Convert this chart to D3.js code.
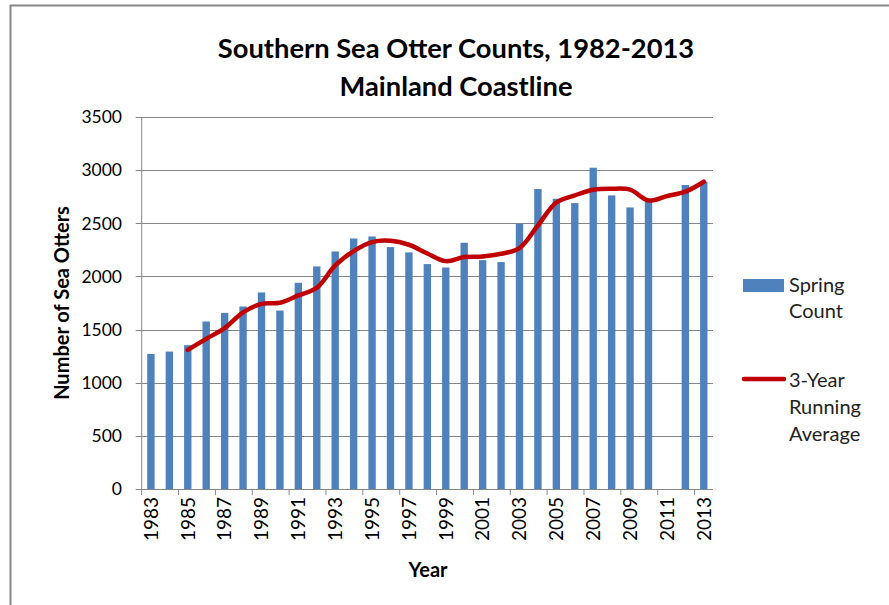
<!DOCTYPE html>
<html>
<head>
<meta charset="utf-8">
<script src="https://cdn.jsdelivr.net/npm/d3@7"></script>
<style>
  html, body { margin: 0; padding: 0; background: #fff; }
  svg { display: block; }
  text { font-family: Lato, "Liberation Sans", sans-serif; fill: #000; }
</style>
</head>
<body>
<svg id="chart" width="889" height="605"></svg>
<script>
const years = ["1983","1984","1985","1986","1987","1988","1989","1990","1991","1992",
  "1993","1994","1995","1996","1997","1998","1999","2000","2001","2002",
  "2003","2004","2005","2006","2007","2008","2009","2010","2011","2012","2013"];
const springCount = [1271,1293,1353,1576,1657,1717,1849,1679,1940,2094,
  2235,2357,2376,2276,2226,2116,2084,2317,2153,2135,
  2495,2822,2731,2690,3023,2762,2649,2706,null,2860,2891];
const runningAvg = [null,null,1309,1413,1513,1661,1742,1752,1821,1893,
  2103,2238,2323,2335,2298,2216,2144,2182,2188,2213,
  2266,2480,2696,2762,2816,2825,2816,2715,2756,2797,2891];
const yTicks = [0,500,1000,1500,2000,2500,3000,3500];
const xTickLabels = ["1983","1985","1987","1989","1991","1993","1995","1997","1999",
  "2001","2003","2005","2007","2009","2011","2013"];
const titleLines = ["Southern Sea Otter Counts, 1982-2013", "Mainland Coastline"];
const legendItems = [["Spring","Count"],["3-Year","Running","Average"]];

const svg = d3.select("#chart");
const gridColor = "#868686";
const barColor = "#4F81BD";
const lineColor = "#C00000";

// frame
svg.append("line").attr("x1",10).attr("x2",889).attr("y1",5.5).attr("y2",5.5)
  .attr("stroke","#878787").attr("stroke-width",2);
svg.append("line").attr("x1",10.5).attr("x2",10.5).attr("y1",5).attr("y2",605)
  .attr("stroke","#878787").attr("stroke-width",2);

const plot = {left:141.7, right:713, top:117, bottom:489};
const x = d3.scaleBand().domain(years).range([plot.left, plot.right]).paddingInner(0).paddingOuter(0);
const y = d3.scaleLinear().domain([0,3500]).range([plot.bottom, plot.top]);

// gridlines + y ticks
svg.append("g").selectAll("line").data(yTicks).join("line")
  .attr("x1", plot.left - 6).attr("x2", plot.right)
  .attr("y1", d => Math.round(y(d)) + 0.5).attr("y2", d => Math.round(y(d)) + 0.5)
  .attr("stroke", gridColor).attr("stroke-width", 1);

// y axis line
svg.append("line").attr("x1", plot.left).attr("x2", plot.left)
  .attr("y1", plot.top).attr("y2", plot.bottom)
  .attr("stroke", gridColor).attr("stroke-width", 1);

// y tick labels
svg.append("g").selectAll("text").data(yTicks).join("text")
  .attr("x", 122).attr("y", d => y(d)).attr("dy","0.36em")
  .attr("text-anchor","end").style("font-size","17.5px").style("fill","#000")
  .text(d => d);

// bars
const bw = x.bandwidth() * 0.4;
svg.append("g").selectAll("rect").data(years.map((yr,i)=>({yr, v:springCount[i]})).filter(d=>d.v!=null))
  .join("rect")
  .attr("x", d => x(d.yr) + (x.bandwidth()-bw)/2)
  .attr("width", bw)
  .attr("y", d => y(d.v))
  .attr("height", d => y(0) - y(d.v))
  .attr("fill", barColor);

// x axis line and ticks
svg.append("line").attr("x1", plot.left).attr("x2", plot.right)
  .attr("y1", plot.bottom+0.5).attr("y2", plot.bottom+0.5)
  .attr("stroke", gridColor).attr("stroke-width", 1);
const tickYears = years.filter((d,i)=> i % 2 === 0);
svg.append("g").selectAll("line").data(tickYears).join("line")
  .attr("x1", d => x(d)).attr("x2", d => x(d))
  .attr("y1", plot.bottom).attr("y2", plot.bottom + 6)
  .attr("stroke", gridColor).attr("stroke-width", 1);

// x tick labels (rotated)
svg.append("g").selectAll("text").data(xTickLabels).join("text")
  .attr("transform", d => `translate(${x(d) + x.bandwidth()/2},${plot.bottom + 8}) rotate(-90)`)
  .attr("dy","0.36em").attr("text-anchor","end")
  .style("font-size","19px")
  .text(d => d);

// running average line
const lineGen = d3.line()
  .defined(d => d.v != null)
  .x(d => x(d.yr) + x.bandwidth()/2)
  .y(d => y(d.v))
  .curve(d3.curveCatmullRom.alpha(0.5));
svg.append("path")
  .datum(years.map((yr,i)=>({yr, v:runningAvg[i]})))
  .attr("d", lineGen)
  .attr("fill","none").attr("stroke", lineColor)
  .attr("stroke-width", 4.5).attr("stroke-linejoin","round").attr("stroke-linecap","round");

// title
svg.append("g").selectAll("text").data(titleLines).join("text")
  .attr("x", 456).attr("y", (d,i) => 58 + i*38)
  .attr("text-anchor","middle")
  .style("font-size","27.3px").style("font-weight","bold")
  .text(d => d);

// axis titles
svg.append("text")
  .attr("transform","translate(62,303) rotate(-90)")
  .attr("dy","0.36em").attr("text-anchor","middle")
  .style("font-size","20px").style("font-weight","bold")
  .text("Number of Sea Otters");
svg.append("text")
  .attr("x", 428).attr("y", 577).attr("text-anchor","middle")
  .style("font-size","20px").style("font-weight","bold")
  .text("Year");

// legend
const lg = svg.append("g");
lg.append("rect").attr("x",743).attr("y",279).attr("width",41).attr("height",13).attr("fill",barColor);
lg.append("text").selectAll("tspan").data(legendItems[0]).join("tspan")
  .attr("x",789).attr("y",(d,i)=>292 + i*26)
  .style("font-size","20px").style("fill","#222").text(d=>d);
lg.append("line").attr("x1",744).attr("x2",784).attr("y1",379).attr("y2",379)
  .attr("stroke",lineColor).attr("stroke-width",4.5).attr("stroke-linecap","round");
lg.append("text").selectAll("tspan").data(legendItems[1]).join("tspan")
  .attr("x",789).attr("y",(d,i)=>387 + i*27)
  .style("font-size","20px").style("fill","#222").text(d=>d);
</script>
</body>
</html>
